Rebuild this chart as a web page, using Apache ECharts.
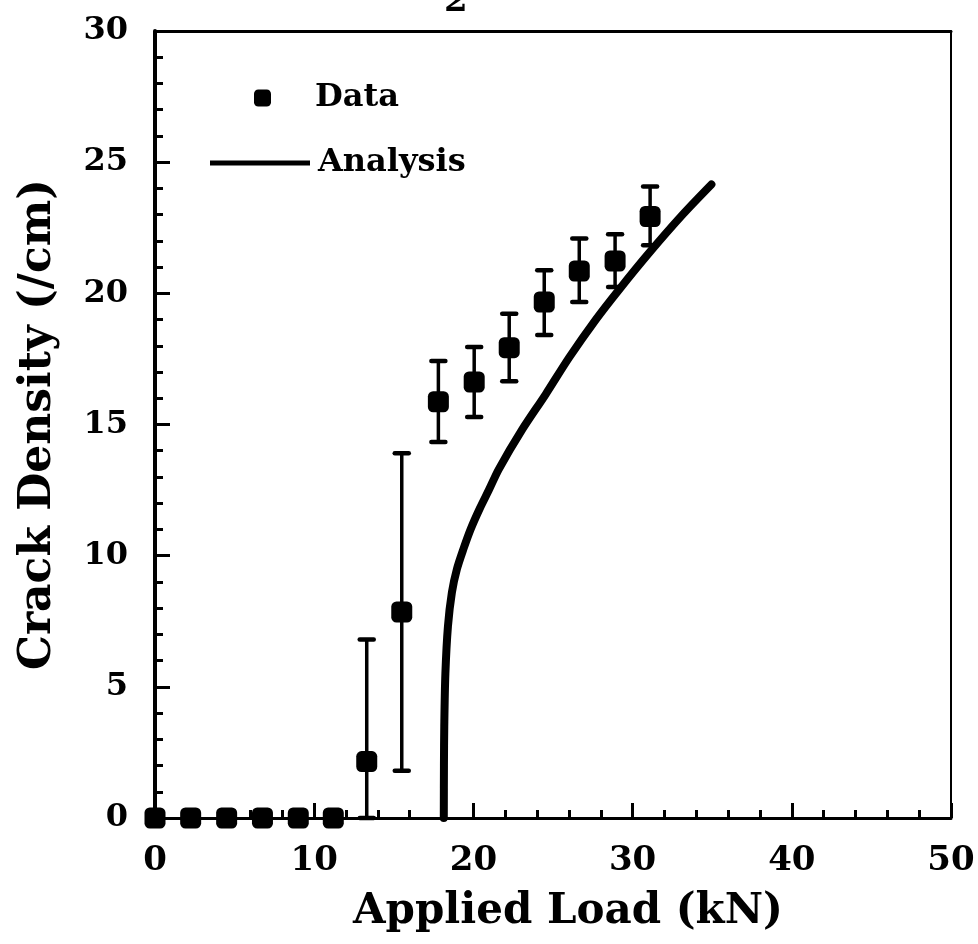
<!DOCTYPE html>
<html>
<head>
<meta charset="utf-8">
<script src="https://cdn.jsdelivr.net/npm/echarts@6/dist/echarts.min.js"></script>
<style>
html,body{margin:0;padding:0;background:#fff;}
#chart{width:978px;height:944px;}
</style>
</head>
<body>
<div id="chart"></div>
<script>
// ---- data ----
var loadX      = [0, 2.24, 4.5, 6.75, 9.0, 11.2, 13.3, 15.5, 17.8, 20.05, 22.25, 24.45, 26.65, 28.9, 31.1];
var density    = [0, 0, 0, 0, 0, 0, 2.15, 7.85, 15.87, 16.62, 17.93, 19.67, 20.85, 21.23, 22.93];
var errLow     = [null, null, null, null, null, null, 0, 1.8, 14.33, 15.29, 16.65, 18.41, 19.67, 20.24, 21.83];
var errHigh    = [null, null, null, null, null, null, 6.8, 13.9, 17.42, 17.95, 19.22, 20.88, 22.09, 22.25, 24.07];
var analysisX  = [18.14, 18.15, 18.17, 18.24, 18.4, 18.65, 18.97, 19.4, 19.82, 20.4, 20.97, 21.6, 23.07, 24.54, 26.01, 27.69, 29.16, 31.05, 33.14, 34.95];
var analysisY  = [0, 2, 3.5, 5.5, 7.3, 8.6, 9.5, 10.3, 11.0, 11.8, 12.5, 13.3, 14.81, 16.15, 17.55, 19.0, 20.15, 21.55, 23.0, 24.15];
var xTicks = [0, 10, 20, 30, 40, 50];
var yTicks = [0, 5, 10, 15, 20, 25, 30];

var FONT = '"DejaVu Serif", "Liberation Serif", serif';

var pts = loadX.map(function(x, i){ return [x, density[i]]; });
var errData = [];
loadX.forEach(function(x, i){
  if (errLow[i] !== null) errData.push([x, errLow[i], errHigh[i]]);
});
var curve = analysisX.map(function(x, i){ return [x, analysisY[i]]; });

var chart = echarts.init(document.getElementById('chart'), null, {renderer:'canvas'});
chart.setOption({
  backgroundColor: '#ffffff',
  animation: false,
  graphic: [{
    type: 'text', left: 444, top: -15,
    style: { text: '2', font: 'bold 34px ' + FONT, fill: '#000' }
  }],
  legend: [{
    data: [{name: 'Data', icon: 'roundRect'}],
    left: 249, top: 77, itemWidth: 17, itemHeight: 17,
    textStyle: { fontFamily: FONT, fontSize: 32, fontWeight: 'bold', color: '#000', padding: [0,0,0,39] },
    selectedMode: false
  }, {
    data: [{name: 'Analysis', icon: 'rect'}],
    left: 205, top: 142, itemWidth: 100, itemHeight: 5,
    textStyle: { fontFamily: FONT, fontSize: 32, fontWeight: 'bold', color: '#000', padding: [0,0,0,3] },
    selectedMode: false
  }],
  grid: { left: 155, right: 27, top: 31, bottom: 126, containLabel: false },
  xAxis: [{
    type: 'value', min: 0, max: 50, interval: 10,
    name: 'Applied Load (kN)', nameLocation: 'middle', nameGap: 73,
    nameTextStyle: { fontFamily: FONT, fontSize: 42, fontWeight: 'bold', color: '#000', padding: [0,0,0,30] },
    axisLine: { show: true, onZero: false, lineStyle: { color: '#000', width: 3 } },
    axisTick: { show: true, inside: true, length: 15, lineStyle: { color: '#000', width: 3 } },
    minorTick: { show: true, splitNumber: 5, length: 8, lineStyle: { color: '#000', width: 3 } },
    axisLabel: { fontFamily: FONT, fontSize: 34, fontWeight: 'bold', color: '#000', margin: 26,
      formatter: function(v){ return xTicks.indexOf(v) >= 0 ? String(v) : ''; } },
    splitLine: { show: false }
  }, {
    type: 'value', min: 0, max: 50, position: 'top',
    axisLine: { show: true, onZero: false, lineStyle: { color: '#000', width: 3 } },
    axisTick: { show: false }, axisLabel: { show: false }, splitLine: { show: false }
  }],
  yAxis: [{
    type: 'value', min: 0, max: 30, interval: 5,
    name: 'Crack Density (/cm)', nameLocation: 'middle', nameGap: 94,
    nameTextStyle: { fontFamily: FONT, fontSize: 44, fontWeight: 'bold', color: '#000' },
    axisLine: { show: true, onZero: false, lineStyle: { color: '#000', width: 4 } },
    axisTick: { show: true, inside: true, length: 15, lineStyle: { color: '#000', width: 3 } },
    minorTick: { show: true, splitNumber: 5, length: 8, lineStyle: { color: '#000', width: 3 } },
    axisLabel: { fontFamily: FONT, fontSize: 32, fontWeight: 'bold', color: '#000', margin: 27,
      formatter: function(v){ return yTicks.indexOf(v) >= 0 ? String(v) : ''; } },
    splitLine: { show: false }
  }, {
    type: 'value', min: 0, max: 30, position: 'right',
    axisLine: { show: true, onZero: false, lineStyle: { color: '#000', width: 2 } },
    axisTick: { show: false }, axisLabel: { show: false }, splitLine: { show: false }
  }],
  series: [{
    name: 'Analysis', type: 'line', data: curve, smooth: 0.3, symbol: 'none',
    lineStyle: { color: '#000', width: 8, cap: 'round' }, itemStyle: { color: '#000' },
    z: 3, clip: false
  }, {
    name: 'Data-err', type: 'custom', data: errData, z: 4,
    renderItem: function(params, api){
      var x = api.value(0);
      var lo = api.coord([x, api.value(1)]);
      var hi = api.coord([x, api.value(2)]);
      var cap = 7;
      return { type: 'group', children: [
        { type: 'line', shape: { x1: lo[0], y1: lo[1], x2: hi[0], y2: hi[1] }, style: { stroke: '#000', lineWidth: 3.5 } },
        { type: 'line', shape: { x1: hi[0]-cap, y1: hi[1], x2: hi[0]+cap, y2: hi[1] }, style: { stroke: '#000', lineWidth: 4.5, lineCap: 'round' } },
        { type: 'line', shape: { x1: lo[0]-cap, y1: lo[1], x2: lo[0]+cap, y2: lo[1] }, style: { stroke: '#000', lineWidth: 4.5, lineCap: 'round' } }
      ]};
    }
  }, {
    name: 'Data', type: 'scatter', data: pts, symbol: 'roundRect', symbolSize: 21,
    itemStyle: { color: '#000', opacity: 1 }, z: 5, clip: false
  }]
});
</script>
</body>
</html>
